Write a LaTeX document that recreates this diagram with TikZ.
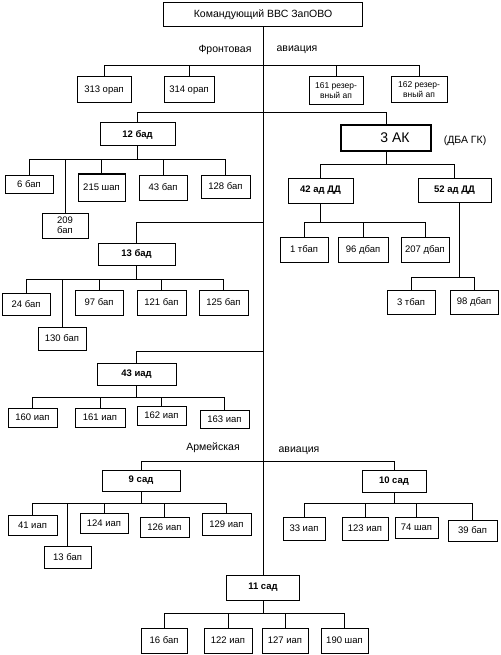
\documentclass[tikz,border=0pt]{standalone}
\usepackage{fontspec}
\setmainfont{Liberation Sans}
\newcommand\kids[3]{\foreach \c in {#3} {\draw[ln] (#1) |- (\c.north |- #2) -- (\c.north);}}
\begin{document}
\begin{tikzpicture}[x=1pt,y=-1pt,
  ln/.style={line width=1pt},
  box/.style={draw, line width=1pt, inner sep=0pt, align=center, font=\fontsize{9.5}{10}\selectfont},
  bbox/.style={box, font=\fontsize{9.5}{11}\selectfont\bfseries},
  rbox/.style={box, font=\fontsize{8.5}{10}\selectfont},
  sect/.style={inner sep=0pt, font=\fontsize{10.5}{12}\selectfont}]
\useasboundingbox (0,0) rectangle (500,655);
% bus levels
\coordinate (yF) at (0,66);
\coordinate (y113) at (0,113);
\coordinate (y160) at (0,160);
\coordinate (y165) at (0,165);
\coordinate (y222) at (0,222);
\coordinate (y222b) at (0,222);
\coordinate (y277) at (0,277);
\coordinate (y279) at (0,279);
\coordinate (y351) at (0,351);
\coordinate (y397) at (0,397);
\coordinate (y461) at (0,461);
\coordinate (y503) at (0,503);
\coordinate (y613) at (0,613);

\node[box, font=\fontsize{10.5}{12}\selectfont, minimum width=199pt, minimum height=24pt] (top) at (263,15) {Командующий ВВС ЗапОВО};
\node[sect] (fr1) at (225,50) {Фронтовая};
\node[sect] (fr2) at (297,50) {авиация};

\node[box, minimum width=54pt, minimum height=26pt] (o313) at (104,90) {313 орап};
\node[box, minimum width=50pt, minimum height=26pt] (o314) at (189,90) {314 орап};
\node[rbox, minimum width=54pt, minimum height=28pt] (r161) at (336,91) {161 резер-\\вный ап};
\node[rbox, minimum width=56pt, minimum height=26pt] (r162) at (419,90) {162 резер-\\вный ап};

\node[bbox, minimum width=75pt, minimum height=23pt] (b12) at (137.5,134.5) {12 бад};
\node[box, minimum width=48pt, minimum height=18pt] (b6) at (29,184) {6 бап};
\node[box, minimum width=46pt, minimum height=25pt] (b209) at (65,225.5) {209\\бап};
\node[box, minimum width=47pt, minimum height=27pt] (b215) at (101.5,187.5) {215 шап};
\node[box, minimum width=48pt, minimum height=25pt] (b43) at (163,187.5) {43 бап};
\node[box, minimum width=49pt, minimum height=23pt] (b128) at (225.5,186.5) {128 бап};

\node[draw, line width=2pt, inner sep=0pt, font=\fontsize{14}{16}\selectfont, minimum width=90pt, minimum height=26pt] (ak3) at (386,138) {\hspace*{18pt}3 АК};
\node[sect] (dba) at (465,141) {(ДБА ГК)};
\node[bbox, minimum width=65pt, minimum height=25pt] (ad42) at (320.5,190.5) {42 ад ДД};
\node[bbox, minimum width=73pt, minimum height=24pt] (ad52) at (454.5,190) {52 ад ДД};
\node[box, minimum width=48pt, minimum height=25pt] (t1) at (304,249.5) {1 тбап};
\node[box, minimum width=50pt, minimum height=25pt] (d96) at (363,249.5) {96 дбап};
\node[box, minimum width=48pt, minimum height=25pt] (d207) at (425,249.5) {207 дбап};
\node[box, minimum width=48pt, minimum height=24pt] (t3) at (411,302) {3 тбап};
\node[box, minimum width=48pt, minimum height=24pt] (d98) at (474,302) {98 дбап};

\node[bbox, minimum width=77pt, minimum height=22pt] (b13) at (136.5,254) {13 бад};
\node[box, minimum width=48pt, minimum height=22pt] (b24) at (26,304) {24 бап};
\node[box, minimum width=48pt, minimum height=23pt] (b130) at (62,338.5) {130 бап};
\node[box, minimum width=48pt, minimum height=25pt] (b97) at (99,302.5) {97 бап};
\node[box, minimum width=49pt, minimum height=25pt] (b121) at (161.5,302.5) {121 бап};
\node[box, minimum width=49pt, minimum height=25pt] (b125) at (223.5,302.5) {125 бап};

\node[bbox, minimum width=79pt, minimum height=22pt] (i43) at (136.5,374) {43 иад};
\node[box, minimum width=49pt, minimum height=19pt] (i160) at (32.5,417.5) {160 иап};
\node[box, minimum width=50pt, minimum height=19pt] (i161) at (100,417.5) {161 иап};
\node[box, minimum width=49pt, minimum height=19pt] (i162) at (161.5,415.5) {162 иап};
\node[box, minimum width=49pt, minimum height=18pt] (i163) at (224.5,419) {163 иап};

\node[sect] (ar1) at (213,448) {Армейская};
\node[sect] (ar2) at (299,451) {авиация};

\node[bbox, minimum width=78pt, minimum height=21pt] (s9) at (141,480.5) {9 сад};
\node[bbox, minimum width=64pt, minimum height=22pt] (s10) at (394,481) {10 сад};
\node[box, minimum width=49pt, minimum height=20pt] (i41) at (32.5,525) {41 иап};
\node[box, minimum width=47pt, minimum height=22pt] (b13s) at (67.5,557) {13 бап};
\node[box, minimum width=48pt, minimum height=20pt] (i124) at (104,523) {124 иап};
\node[box, minimum width=49pt, minimum height=20pt] (i126) at (164.5,527) {126 иап};
\node[box, minimum width=49pt, minimum height=22pt] (i129) at (226.5,524) {129 иап};
\node[box, minimum width=42pt, minimum height=23pt] (i33) at (304,528.5) {33 иап};
\node[box, minimum width=46pt, minimum height=23pt] (i123) at (365,528.5) {123 иап};
\node[box, minimum width=43pt, minimum height=21pt] (sh74) at (416.5,527.5) {74 шап};
\node[box, minimum width=49pt, minimum height=21pt] (b39) at (472.5,530.5) {39 бап};

\node[bbox, minimum width=73pt, minimum height=25pt] (s11) at (263,587.5) {11 сад};
\node[box, minimum width=46pt, minimum height=25pt] (b16) at (164,640.5) {16 бап};
\node[box, minimum width=48pt, minimum height=25pt] (i122) at (228,640.5) {122 иап};
\node[box, minimum width=46pt, minimum height=25pt] (i127) at (285,640.5) {127 иап};
\node[box, minimum width=47pt, minimum height=25pt] (sh190) at (344.5,640.5) {190 шап};

% trunk
\draw[ln] (top.south) -- (s11.north);
% front-line row
\foreach \c in {o313,o314,r161,r162} {\draw[ln] (top.south |- yF) -| (\c.north);}
% 12 bad and 3 AK
\draw[ln] (b12.north) -- (b12.north |- y113) -- (ak3.north |- y113) -- (ak3.north);
\kids{b12.south}{y160}{b6,b209,b215,b43,b128}
\kids{ak3.south}{y165}{ad42,ad52}
\kids{ad42.south}{y222b}{t1,d96,d207}
\kids{[xshift=4.5pt]ad52.south}{y277}{t3,d98}
% 13 bad
\draw[ln] (b13.north) |- (top.south |- y222);
\kids{b13.south}{y279}{b24,b130,b97,b121,b125}
% 43 iad
\draw[ln] (i43.north) |- (top.south |- y351);
\kids{i43.south}{y397}{i160,i161,i162,i163}
% army aviation
\draw[ln] (s9.north) -- (s9.north |- y461) -- (s10.north |- y461) -- (s10.north);
\kids{s9.south}{y503}{i41,b13s,i124,i126,i129}
\kids{s10.south}{y503}{i33,i123,sh74,b39}
\kids{s11.south}{y613}{b16,i122,i127,sh190}
\end{tikzpicture}
\end{document}
